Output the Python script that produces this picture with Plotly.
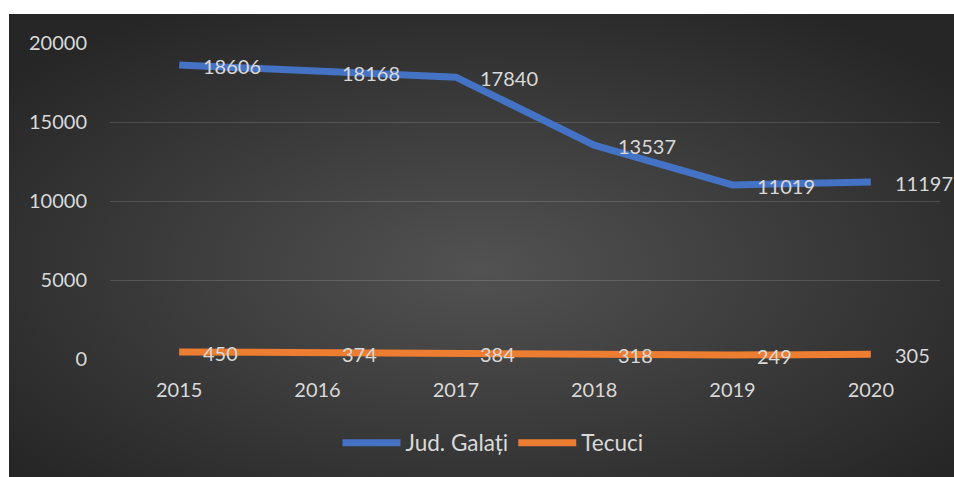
import base64
import plotly.graph_objects as go

years = ["2015", "2016", "2017", "2018", "2019", "2020"]
galati = [18606, 18168, 17840, 13537, 11019, 11197]
tecuci = [450, 374, 384, 318, 249, 305]
series_names = ["Jud. Galați", "Tecuci"]
series_colors = ["#4472C4", "#ED7D31"]
y_ticks = [0, 5000, 10000, 15000, 20000]

W, H = 954, 477
L, R, T, B = 110, 14, 43, 118
FONT = "Lato"
TXT = "#d9d9d9"

BG_X0, BG_Y0 = 9, 14
BG_W, BG_H = W - BG_X0, H - BG_Y0

svg = (
    f'<svg xmlns="http://www.w3.org/2000/svg" width="{BG_W}" height="{BG_H}" '
    f'viewBox="0 0 {BG_W} {BG_H}" preserveAspectRatio="none">'
    '<defs><radialGradient id="g" cx="50%" cy="55%" r="65%">'
    '<stop offset="0%" stop-color="#525252"/>'
    '<stop offset="100%" stop-color="#262626"/>'
    '</radialGradient></defs>'
    f'<rect x="0" y="0" width="{BG_W}" height="{BG_H}" fill="url(#g)"/></svg>'
)
bg_src = "data:image/svg+xml;base64," + base64.b64encode(svg.encode()).decode()

pw = W - L - R
ph = H - T - B
x0p = (BG_X0 - L) / pw
y0p = (H - B - BG_Y0) / ph

xi = list(range(len(years)))

fig = go.Figure()
for name, vals, col in zip(series_names, [galati, tecuci], series_colors):
    fig.add_trace(go.Scatter(
        x=xi, y=vals, mode="lines", name=name,
        line=dict(color=col, width=7),
        hoverinfo="skip",
    ))
    for xv, yv in zip(xi, vals):
        fig.add_annotation(
            x=xv, y=yv, text=str(yv), showarrow=False,
            xanchor="left", yanchor="middle", xshift=22, yshift=-1,
            font=dict(family=FONT, size=20, color=TXT),
        )

fig.update_layout(
    width=W, height=H,
    margin=dict(l=L, r=R, t=T, b=B),
    paper_bgcolor="white",
    plot_bgcolor="rgba(0,0,0,0)",
    font=dict(family=FONT, size=20, color=TXT),
    images=[dict(
        source=bg_src, xref="paper", yref="paper",
        x=x0p, y=y0p, sizex=BG_W / pw, sizey=BG_H / ph,
        xanchor="left", yanchor="top", sizing="stretch", layer="below",
    )],
    xaxis=dict(
        range=[-0.5, len(years) - 0.5], tickvals=xi, ticktext=years,
        showgrid=False, zeroline=False, showline=False,
        ticks="", ticklabelstandoff=17,
        tickfont=dict(family=FONT, size=20, color=TXT),
    ),
    yaxis=dict(
        range=[0, 20000], tickvals=y_ticks, ticktext=[str(v) for v in y_ticks],
        showgrid=True, gridcolor="rgba(255,255,255,0.14)", gridwidth=1,
        zeroline=False, showline=False, ticks="", ticklabelstandoff=22,
        tickfont=dict(family=FONT, size=20, color=TXT),
    ),
    legend=dict(
        orientation="h", x=(493 - L) / pw, xanchor="center",
        y=(H - B - 443) / ph, yanchor="middle",
        font=dict(family=FONT, size=22.5, color=TXT),
        bgcolor="rgba(0,0,0,0)", itemwidth=58,
    ),
    showlegend=True,
)

fig.write_html(
    "out.html",
    config={"displayModeBar": False},
    post_script="document.body.style.margin='0';"
                "document.documentElement.style.overflow='hidden';",
)
